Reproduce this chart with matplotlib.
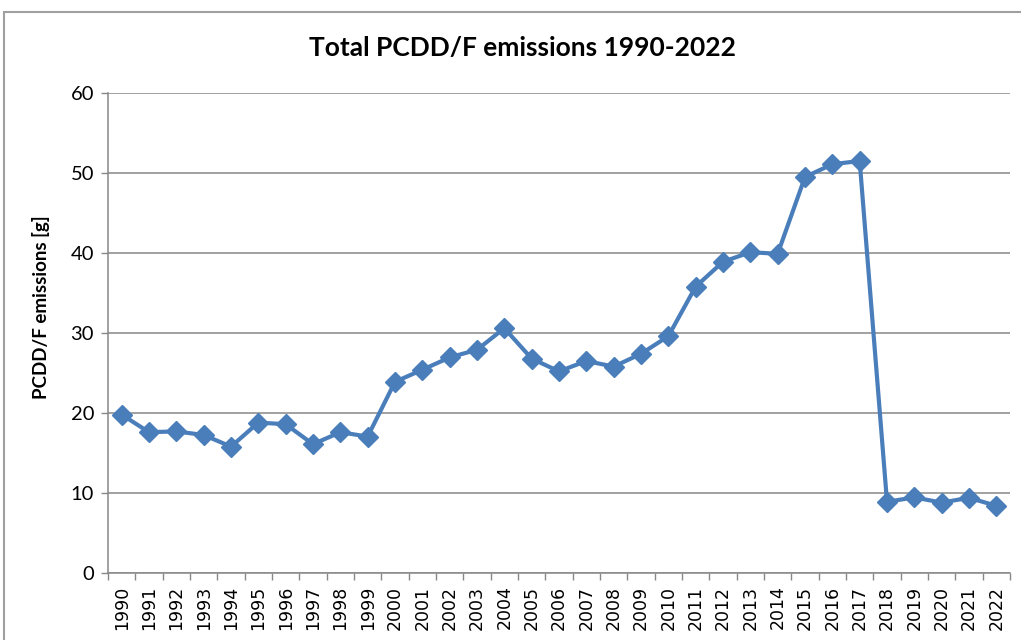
import matplotlib
matplotlib.use("Agg")
import matplotlib.pyplot as plt
from matplotlib.patches import Rectangle

years = [str(y) for y in range(1990, 2023)]
emissions = [19.8, 17.6, 17.7, 17.25, 15.8, 18.8, 18.6, 16.1, 17.6, 17.05,
             23.9, 25.4, 26.95, 27.9, 30.6, 26.8, 25.2, 26.5, 25.8, 27.4,
             29.6, 35.8, 38.9, 40.1, 39.9, 49.5, 51.1, 51.5, 8.9, 9.45,
             8.8, 9.4, 8.4]
y_ticks = [0, 10, 20, 30, 40, 50, 60]

title = "Total PCDD/F emissions 1990-2022"
y_label = "PCDD/F emissions [g]"

plt.rcParams["font.family"] = ["Lato", "DejaVu Sans"]

fig = plt.figure(figsize=(10.21, 6.4), dpi=100)
ax = fig.add_axes([108 / 1021, 1 - 573 / 640, 902 / 1021, 480 / 640])

# outer chart frame
fig.add_artist(Rectangle((4 / 1021, -0.05), 1.1, 1 - 12 / 640 + 0.05,
                         transform=fig.transFigure, fill=False,
                         edgecolor="#A0A0A0", linewidth=1.5))

x = list(range(len(years)))
ax.plot(x, emissions, color="#4A7EBB", linewidth=3.0, marker="D",
        markersize=10, markeredgecolor="#4A7EBB", markerfacecolor="#4A7EBB",
        zorder=3)

ax.set_xlim(-0.5, len(years) - 0.5)
ax.set_ylim(0, 60)
ax.set_yticks(y_ticks)
ax.set_yticklabels([str(t) for t in y_ticks], fontsize=14.5)
ax.yaxis.grid(True, color="#888888", linewidth=1.1)
ax.set_axisbelow(True)

# category labels centred, tick marks on the boundaries
ax.set_xticks(x)
ax.set_xticklabels(years, rotation=90, fontsize=12.5, family="DejaVu Sans")
ax.tick_params(axis="x", which="major", length=0, pad=9)
ax.set_xticks([i - 0.5 for i in range(len(years) + 1)], minor=True)
ax.tick_params(axis="x", which="minor", length=5, color="#888888", width=1)
ax.tick_params(axis="y", length=5, color="#888888", width=1, pad=5)

for side in ("top", "right"):
    ax.spines[side].set_visible(False)
for side in ("left", "bottom"):
    ax.spines[side].set_color("#888888")
    ax.spines[side].set_linewidth(1.1)

ax.set_ylabel(y_label, fontsize=13.5, fontweight="bold")
ax.yaxis.set_label_coords(-0.064, 0.554)
fig.text(522 / 1021, 1 - 48 / 640, title, ha="center", va="center",
         fontsize=19, fontweight="bold")

fig.savefig("out.png", dpi=100)
